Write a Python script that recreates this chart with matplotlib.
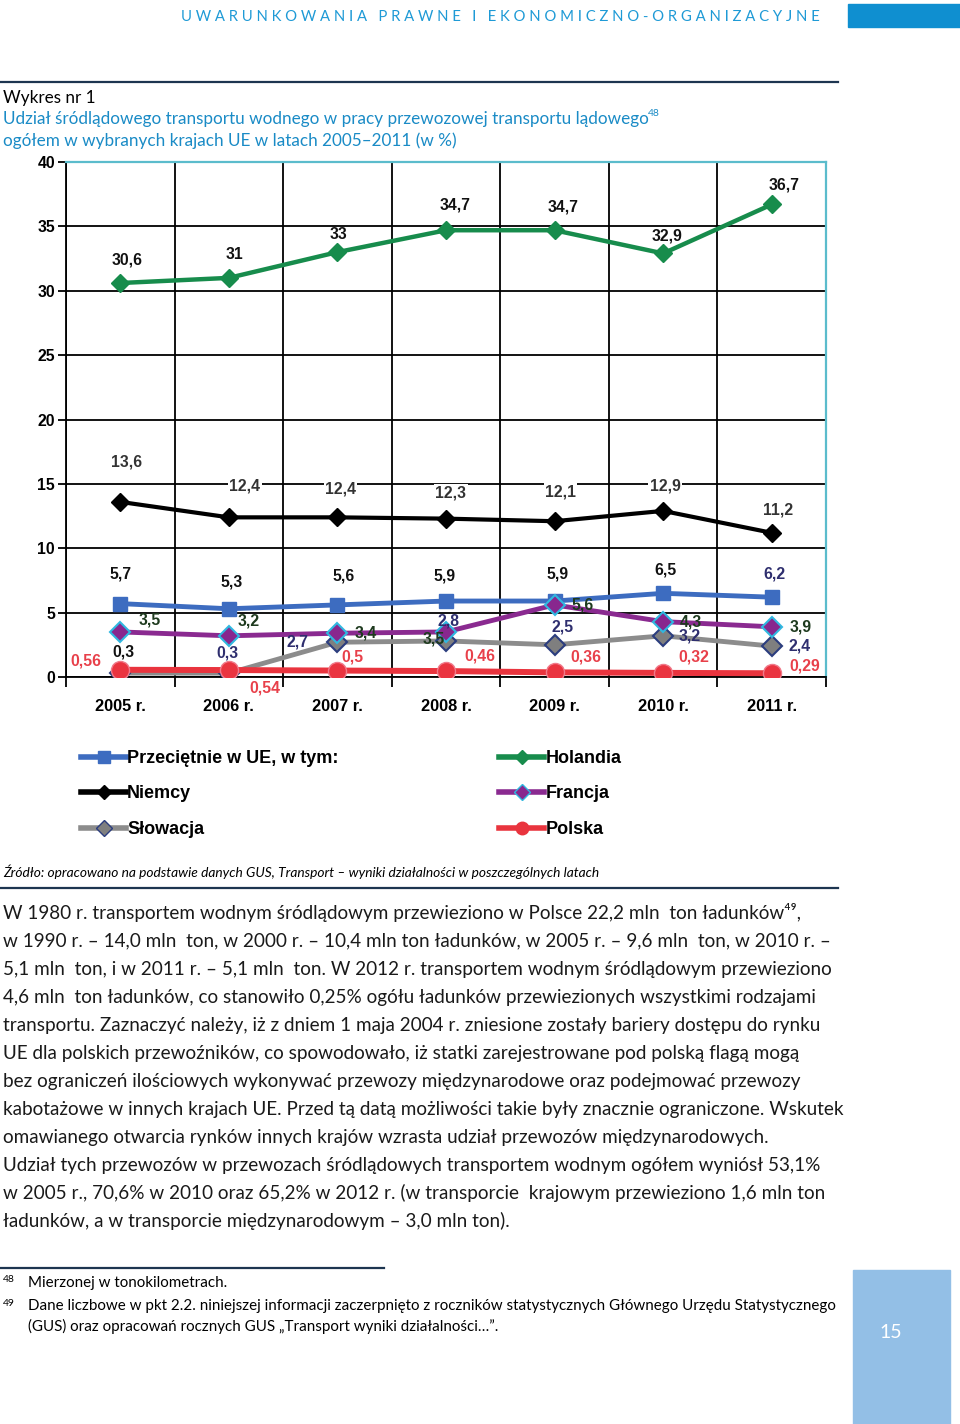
import matplotlib
matplotlib.use('Agg')
import matplotlib.pyplot as plt
from matplotlib.lines import Line2D
from matplotlib.patches import Rectangle

# Dane wykresu (w %)
lata = ['2005 r.', '2006 r.', '2007 r.', '2008 r.', '2009 r.', '2010 r.', '2011 r.']
ue = [5.7, 5.3, 5.6, 5.9, 5.9, 6.5, 6.2]
holandia = [30.6, 31, 33, 34.7, 34.7, 32.9, 36.7]
niemcy = [13.6, 12.4, 12.4, 12.3, 12.1, 12.9, 11.2]
francja = [3.5, 3.2, 3.4, 3.5, 5.6, 4.3, 3.9]
slowacja = [0.3, 0.3, 2.7, 2.8, 2.5, 3.2, 2.4]
polska = [0.56, 0.54, 0.5, 0.46, 0.36, 0.32, 0.29]

# Przesunięcia etykiet (piksele)
off_hol = [(7, 23), (6, 23), (1, 18), (9, 25), (9, 23), (4, 17), (12, 19)]
off_nie = [(6, 40), (16, 31), (3, 28), (5, 26), (6, 29), (2, 25), (6, 23)]
off_ue = [(0, 30), (3, 27), (6, 29), (-1, 25), (3, 27), (2, 23), (3, 23)]
off_fra = [(29, 12), (20, 15), (28, 0), (-12, -7), (28, 0), (28, 0), (29, 0)]
off_slo = [(3, 21), (-1, 20), (-40, 0), (3, 20), (8, 18), (27, 0), (28, 0)]
off_pol = [(-34, 9), (36, -18), (15, 14), (34, 15), (31, 15), (31, 16), (33, 7)]

W, H = 960, 1424
NAVY = '#1d3550'
BLUE_T = '#1a8bc6'
TXT = 'Lato'
CHART = 'Liberation Sans'


def fx(x):
    return x / W


def fy(y):
    return 1 - y / H


def fmt(v):
    return (str(int(v)) if float(v).is_integer() else str(v)).replace('.', ',')


fig = plt.figure(figsize=(W / 100, H / 100), dpi=100)
fig.patch.set_facecolor('white')

# Nagłówek strony
fig.text(fx(181), fy(17), 'U W A R U N K O W A N I A   P R A W N E   I   '
         'E K O N O M I C Z N O - O R G A N I Z A C Y J N E',
         color='#1e9ad6', fontsize=10.75, family=TXT, ha='left', va='center')
fig.patches.append(Rectangle((fx(848), fy(27)), fx(112), 23 / H,
                             transform=fig.transFigure, color='#0f8fd0'))

fig.add_artist(Line2D([0, fx(838)], [fy(82), fy(82)], color=NAVY, lw=1.6))
fig.text(fx(3), fy(98), 'Wykres nr 1', fontsize=12.3, family=TXT, va='center')
fig.text(fx(3), fy(119), 'Udział śródlądowego transportu wodnego w pracy przewozowej '
         'transportu lądowego', fontsize=12.3, family=TXT, color=BLUE_T, va='center')
fig.text(fx(648), fy(114), '48', fontsize=7.5, family=TXT, color=BLUE_T, va='center')
fig.text(fx(3), fy(141), 'ogółem w wybranych krajach UE w latach 2005–2011 (w %)',
         fontsize=12.3, family=TXT, color=BLUE_T, va='center')

# Wykres
ax = fig.add_axes([fx(66), fy(677), fx(826 - 66), (677 - 162) / H])
x = list(range(len(lata)))

seria = [
    (holandia, off_hol, dict(color='#178c4c', lw=3.2, marker='D', ms=9), '#111111'),
    (niemcy, off_nie, dict(color='black', lw=3, marker='D', ms=9), '#333333'),
    (ue, off_ue, dict(color='#3d6cc0', lw=3.5, marker='s', ms=10.5), '#111111'),
    (slowacja, off_slo, dict(color='#8c8c8c', lw=3.5, marker='D', ms=10,
                             mfc='#7f7f7f', mec='#2b3d7e', mew=1.5), '#2e2e6e'),
    (polska, off_pol, dict(color='#e9343e', lw=4.3, marker='o', ms=13,
                           mfc='#ea3440', mec='#f07a8a', mew=1), '#e8404a'),
    (francja, off_fra, dict(color='#8a2a90', lw=3.5, marker='D', ms=10,
                            mfc='#88278e', mec='#30b8e0', mew=1.5), '#1e3a1e'),
]

for vals, offs, st, lc in seria:
    ax.plot(x, vals, zorder=3, **st)
    for i, v in enumerate(vals):
        c = lc
        if vals is ue and i == 6:
            c = '#2e2e6e'
        if vals is slowacja and i == 0:
            c = '#111111'
        bb = dict(facecolor='white', edgecolor='none', pad=1) if vals is niemcy else None
        ax.annotate(fmt(v), (i, v), xytext=offs[i], textcoords='offset pixels',
                    ha='center', va='center', fontsize=11.3, fontweight='bold',
                    family=CHART, color=c, bbox=bb, zorder=4)

ax.set_xlim(-0.5, 6.5)
ax.set_ylim(0, 40)
ax.set_yticks(range(0, 41, 5))
ax.set_xticks(x)
ax.set_xticklabels(lata)
ax.set_xticks([i - 0.5 for i in range(len(lata) + 1)], minor=True)
ax.set_axisbelow(True)
ax.yaxis.grid(True, color='black', lw=1.3)
ax.xaxis.grid(True, which='minor', color='black', lw=1.3)
ax.tick_params(axis='x', which='major', length=0, pad=16)
ax.tick_params(axis='x', which='minor', length=7, width=1.3, direction='out')
ax.tick_params(axis='y', length=6, width=1.3, direction='out', pad=2)
for lab in ax.get_xticklabels() + ax.get_yticklabels():
    lab.set_fontweight('bold')
    lab.set_family(CHART)
for lab in ax.get_xticklabels():
    lab.set_fontsize(11.8)
for lab in ax.get_yticklabels():
    lab.set_fontsize(11.3)
ax.spines['left'].set_linewidth(1.3)
ax.spines['bottom'].set_linewidth(1.3)
ax.spines['top'].set_color('#5bbccc')
ax.spines['right'].set_color('#5bbccc')
ax.spines['top'].set_linewidth(1.6)
ax.spines['right'].set_linewidth(1.6)

# Legenda
uchwyty = [
    Line2D([], [], color='#3d6cc0', lw=4, marker='s', ms=8),
    Line2D([], [], color='black', lw=4, marker='D', ms=7),
    Line2D([], [], color='#8c8c8c', lw=4, marker='D', ms=8, mfc='#7f7f7f', mec='#2b3d7e'),
    Line2D([], [], color='#178c4c', lw=4, marker='D', ms=7),
    Line2D([], [], color='#8a2a90', lw=4, marker='D', ms=8, mfc='#88278e', mec='#30b8e0'),
    Line2D([], [], color='#e9343e', lw=4, marker='o', ms=9),
]
etykiety = ['Przeciętnie w UE, w tym:', 'Niemcy', 'Słowacja', 'Holandia', 'Francja', 'Polska']
fig.legend(uchwyty, etykiety, loc='upper left', bbox_to_anchor=(fx(81), fy(750)),
           ncol=2, frameon=False, borderpad=0, borderaxespad=0, handlelength=2.5,
           handletextpad=0.05, labelspacing=1.02, columnspacing=8.9,
           prop=dict(family=CHART, weight='bold', size=13))

# Źródło
fig.text(fx(3), fy(872), 'Źródło: opracowano na podstawie danych GUS, Transport – wyniki '
         'działalności w poszczególnych latach', fontsize=9.95, family=TXT,
         style='italic', va='center')
fig.add_artist(Line2D([0, fx(838)], [fy(888), fy(888)], color=NAVY, lw=1.6))

tekst = [
    'W 1980 r. transportem wodnym śródlądowym przewieziono w Polsce 22,2 mln  ton ładunków⁴⁹,',
    'w 1990 r. – 14,0 mln  ton, w 2000 r. – 10,4 mln ton ładunków, w 2005 r. – 9,6 mln  ton, w 2010 r. –',
    '5,1 mln  ton, i w 2011 r. – 5,1 mln  ton. W 2012 r. transportem wodnym śródlądowym przewieziono',
    '4,6 mln  ton ładunków, co stanowiło 0,25% ogółu ładunków przewiezionych wszystkimi rodzajami',
    'transportu. Zaznaczyć należy, iż z dniem 1 maja 2004 r. zniesione zostały bariery dostępu do rynku',
    'UE dla polskich przewoźników, co spowodowało, iż statki zarejestrowane pod polską flagą mogą',
    'bez ograniczeń ilościowych wykonywać przewozy międzynarodowe oraz podejmować przewozy',
    'kabotażowe w innych krajach UE. Przed tą datą możliwości takie były znacznie ograniczone. Wskutek',
    'omawianego otwarcia rynków innych krajów wzrasta udział przewozów międzynarodowych.',
    'Udział tych przewozów w przewozach śródlądowych transportem wodnym ogółem wyniósł 53,1%',
    'w 2005 r., 70,6% w 2010 oraz 65,2% w 2012 r. (w transporcie  krajowym przewieziono 1,6 mln ton',
    'ładunków, a w transporcie międzynarodowym – 3,0 mln ton).',
]
for k, linia in enumerate(tekst):
    fig.text(fx(3), fy(913 + 28 * k), linia, fontsize=13.6, family=[TXT, 'DejaVu Sans'],
             va='center', color='#1a1a1a')

# Przypisy
fig.add_artist(Line2D([0, fx(384)], [fy(1268), fy(1268)], color=NAVY, lw=1.6))
fig.text(fx(3), fy(1280), '48', fontsize=7.5, family=TXT, va='center')
fig.text(fx(28), fy(1283), 'Mierzonej w tonokilometrach.', fontsize=10.9, family=TXT, va='center')
fig.text(fx(3), fy(1303), '49', fontsize=7.5, family=TXT, va='center')
fig.text(fx(28), fy(1306), 'Dane liczbowe w pkt 2.2. niniejszej informacji zaczerpnięto z roczników '
         'statystycznych Głównego Urzędu Statystycznego', fontsize=10.9, family=TXT, va='center')
fig.text(fx(28), fy(1326), '(GUS) oraz opracowań rocznych GUS „Transport wyniki działalności…”.',
         fontsize=10.9, family=TXT, va='center')

fig.patches.append(Rectangle((fx(853), 0), fx(97), (1424 - 1270) / H,
                             transform=fig.transFigure, color='#93bfe6'))
fig.text(fx(891), fy(1332), '15', fontsize=14, family=TXT, color='white',
         ha='center', va='center')

fig.savefig('out.png', dpi=100)
